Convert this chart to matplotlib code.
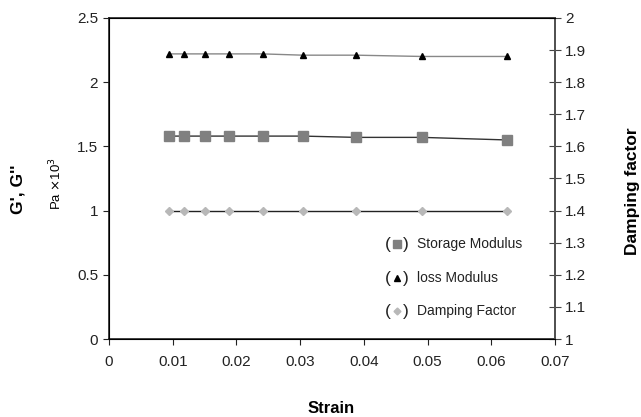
import matplotlib.pyplot as plt

plt.rcParams['font.family'] = ['Liberation Sans', 'DejaVu Sans']

strain = [0.0094, 0.0118, 0.0150, 0.0189, 0.0241, 0.0304, 0.0388, 0.0491, 0.0624]
storage = [1.58, 1.58, 1.58, 1.58, 1.58, 1.58, 1.57, 1.57, 1.55]
loss = [2.22, 2.22, 2.22, 2.22, 2.22, 2.21, 2.21, 2.20, 2.20]
damping = [1.4, 1.4, 1.4, 1.4, 1.4, 1.4, 1.4, 1.4, 1.4]

legend_labels = ['Storage Modulus', 'loss Modulus', 'Damping Factor']

fig = plt.figure(figsize=(6.41, 4.17), dpi=100)
ax = fig.add_axes([0.170, 0.187, 0.696, 0.770])
ax2 = ax.twinx()

ax.plot(strain, loss, color='#888888', lw=1, marker='^', ms=5,
        mfc='black', mec='black', zorder=3)
ax.plot(strain, storage, color='#333333', lw=1, marker='s', ms=7,
        mfc='#808080', mec='#808080', zorder=3)
ax2.plot(strain, damping, color='#222222', lw=1, marker='D', ms=4,
         mfc='#b8b8b8', mec='#b8b8b8', zorder=3)

ax.set_xlim(0, 0.07)
ax.set_ylim(0, 2.5)
ax2.set_ylim(1, 2)
ax.set_xticks([0, 0.01, 0.02, 0.03, 0.04, 0.05, 0.06, 0.07])
ax.set_xticklabels(['0', '0.01', '0.02', '0.03', '0.04', '0.05', '0.06', '0.07'])
ax.set_yticks([0, 0.5, 1, 1.5, 2, 2.5])
ax.set_yticklabels(['0', '0.5', '1', '1.5', '2', '2.5'])
ax2.set_yticks([1, 1.1, 1.2, 1.3, 1.4, 1.5, 1.6, 1.7, 1.8, 1.9, 2])
ax2.set_yticklabels(['1', '1.1', '1.2', '1.3', '1.4', '1.5', '1.6', '1.7', '1.8', '1.9', '2'])

ax.tick_params(axis='both', direction='out', length=4.3, labelsize=11,
               color='#222222', labelcolor='#222222')
ax.tick_params(axis='x', pad=7)
ax2.tick_params(axis='y', direction='inout', length=8.6, labelsize=11,
                color='#444444', labelcolor='#222222', pad=3)
for s in ax.spines.values():
    s.set_color('#222222')
    s.set_linewidth(1.2)
ax2.spines['right'].set_color('#555555')
ax2.spines['right'].set_linewidth(1.2)

fig.text(0.028, 0.545, "G', G''", rotation=90, fontsize=12.5, fontweight='bold',
         ha='center', va='center')
fig.text(0.088, 0.561, r'Pa $\times$10$^3$', rotation=90, fontsize=9.5,
         ha='center', va='center')
fig.text(0.987, 0.542, 'Damping factor', rotation=90, fontsize=12.5,
         fontweight='bold', ha='center', va='center')
fig.text(0.516, 0.020, 'Strain', fontsize=12, fontweight='bold',
         ha='center', va='center')

# custom legend with bracketed markers
leg_y = [0.295, 0.190, 0.087]
leg_style = [dict(marker='s', ms=6, mfc='#808080', mec='#808080'),
             dict(marker='^', ms=4, mfc='black', mec='black'),
             dict(marker='D', ms=3.5, mfc='#b8b8b8', mec='#b8b8b8')]
for y, lab, st in zip(leg_y, legend_labels, leg_style):
    ax.text(0.624, y, '(', transform=ax.transAxes, fontsize=12.5,
            ha='center', va='center', color='#222222')
    ax.plot([0.645], [y], transform=ax.transAxes, ls='none', **st)
    ax.text(0.666, y, ')', transform=ax.transAxes, fontsize=12.5,
            ha='center', va='center', color='#222222')
    ax.text(0.690, y, lab, transform=ax.transAxes, fontsize=10,
            ha='left', va='center', color='#222222')

fig.savefig('out.png', dpi=100)
